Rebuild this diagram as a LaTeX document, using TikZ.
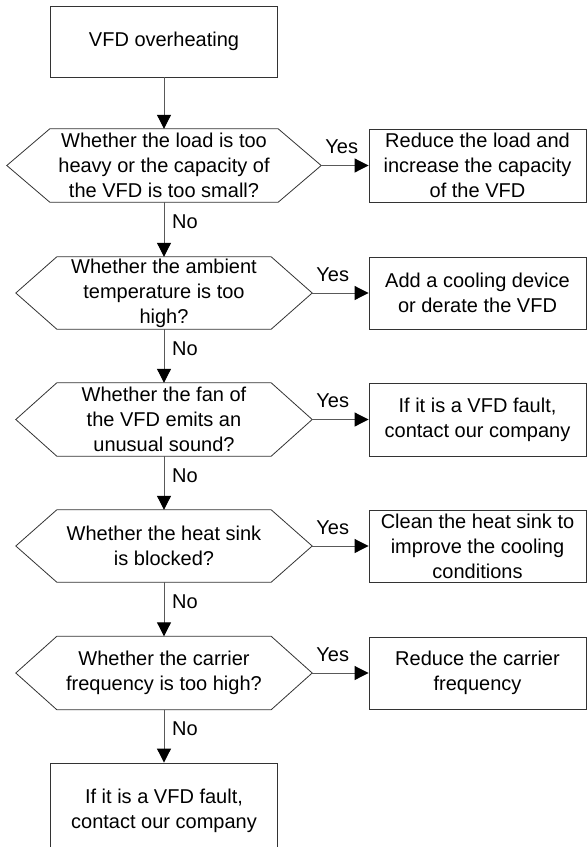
\documentclass[tikz,border=0pt]{standalone}
\usepackage{fontspec}
\setmainfont{Liberation Sans}
\usetikzlibrary{arrows.meta}
\newcommand\hexdraw[2]{\draw[hexline] (#1.west) -- ([xshift=#2]#1.north west) -- ([xshift=-#2]#1.north east) -- (#1.east) -- ([xshift=-#2]#1.south east) -- ([xshift=#2]#1.south west) -- cycle;}
\begin{document}
\begin{tikzpicture}[x=1pt,y=-1pt,
  txt/.style={font=\fontsize{20}{25}\selectfont, align=center, inner sep=0pt},
  box/.style={txt, draw=black!80, line width=0.9pt},
  hexn/.style={txt},
  hexline/.style={draw=black!80, line width=0.8pt},
  conn/.style={draw=black!65, line width=1pt, -{Triangle[length=14pt,width=14pt,color=black]}},
  lbl/.style={font=\fontsize{20}{25}\selectfont, inner sep=0pt}]
\useasboundingbox (0,0) rectangle (587,847);
\fill[white] (0,0) rectangle (587,847);
% main column
\node[box, minimum width=227pt, minimum height=71pt] (start) at (164,41.5) {VFD overheating};
\node[hexn, minimum width=314pt, minimum height=73pt] (q1) at (164,165.5) {Whether the load is too\\heavy or the capacity of\\the VFD is too small?};
\node[hexn, minimum width=296pt, minimum height=72pt] (q2) at (164,293) {Whether the ambient\\temperature is too\\high?};
\node[hexn, minimum width=296pt, minimum height=73pt] (q3) at (164,419.5) {Whether the fan of\\the VFD emits an\\unusual sound?};
\node[hexn, minimum width=296pt, minimum height=72pt] (q4) at (164,546) {Whether the heat sink\\is blocked?};
\node[hexn, minimum width=296pt, minimum height=73pt] (q5) at (164,673) {Whether the carrier\\frequency is too high?};
\node[box, minimum width=227pt, minimum height=96pt] (end) at (164,811) {If it is a VFD fault,\\contact our company};
\hexdraw{q1}{43pt}
\hexdraw{q2}{41pt}
\hexdraw{q3}{41pt}
\hexdraw{q4}{41pt}
\hexdraw{q5}{41pt}
% right column
\node[box, minimum width=217pt, minimum height=73pt] (r1) at (477.5,165.5) {Reduce the load and\\increase the capacity\\of the VFD};
\node[box, minimum width=217pt, minimum height=72pt] (r2) at (477.5,293) {Add a cooling device\\or derate the VFD};
\node[box, minimum width=217pt, minimum height=73pt] (r3) at (477.5,419.5) {If it is a VFD fault,\\contact our company};
\node[box, minimum width=217pt, minimum height=72pt] (r4) at (477.5,546) {Clean the heat sink to\\improve the cooling\\conditions};
\node[box, minimum width=217pt, minimum height=72pt] (r5) at (477.5,673) {Reduce the carrier\\frequency};
% vertical connectors
\draw[conn] (start.south) -- (q1.north);
\draw[conn] (q1.south) -- (q2.north);
\draw[conn] (q2.south) -- (q3.north);
\draw[conn] (q3.south) -- (q4.north);
\draw[conn] (q4.south) -- (q5.north);
\draw[conn] (q5.south) -- (end.north);
% horizontal connectors
\draw[conn] (q1.east) -- (q1.east -| r1.west);
\draw[conn] (q2.east) -- (q2.east -| r2.west);
\draw[conn] (q3.east) -- (q3.east -| r3.west);
\draw[conn] (q4.east) -- (q4.east -| r4.west);
\draw[conn] (q5.east) -- (q5.east -| r5.west);
% labels
\foreach \q in {q1,q2,q3,q4,q5}{
  \node[lbl, anchor=base west] (yes\q) at ([xshift=4pt,yshift=12pt]\q.east) {Yes};
  \node[lbl, anchor=base west] (no\q) at ([xshift=8pt,yshift=-26pt]\q.south) {No};
}
\end{tikzpicture}
\end{document}
